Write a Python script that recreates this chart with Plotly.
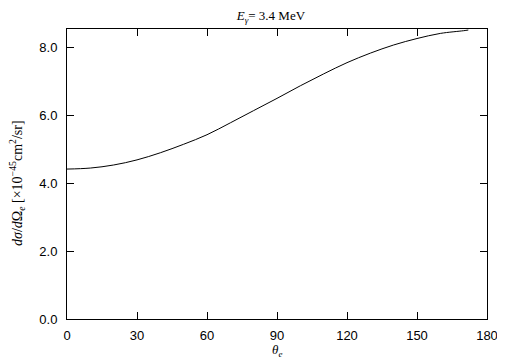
import plotly.graph_objects as go

theta = [0, 10, 20, 30, 40, 50, 60, 70, 80, 90, 100, 110, 120, 130, 140, 150, 160, 170, 172]
dsigma = [4.41, 4.44, 4.53, 4.68, 4.89, 5.14, 5.42, 5.77, 6.13, 6.49, 6.86, 7.21, 7.54, 7.82, 8.06, 8.25, 8.40, 8.48, 8.50]

x_ticks = [0, 30, 60, 90, 120, 150, 180]
y_ticks = [0.0, 2.0, 4.0, 6.0, 8.0]

fig = go.Figure()
fig.add_trace(go.Scatter(x=theta, y=dsigma, mode="lines",
                         line=dict(color="black", width=1, shape="spline", smoothing=1.0),
                         showlegend=False))

tickfont = dict(family="Liberation Sans, Arial, sans-serif", size=13, color="black")
serif = "Liberation Serif, Times New Roman, serif"

# page body has an 8px margin, so the figure is made 8px smaller on each leading edge
fig.update_layout(
    width=497, height=353,
    margin=dict(l=59, r=18, t=21, b=42, autoexpand=False),
    paper_bgcolor="white", plot_bgcolor="white",
    title=dict(text="<i>E</i><sub><i>γ</i></sub>= 3.4 MeV", x=0.529, xanchor="center",
               y=0.978, yanchor="middle", automargin=False,
               font=dict(family=serif, size=13, color="black")),
    xaxis=dict(range=[0, 180], tickvals=x_ticks, ticktext=[str(v) for v in x_ticks],
               ticks="inside", ticklen=7, tickcolor="black", tickwidth=1,
               showline=True, linecolor="black", linewidth=1, mirror="ticks",
               showgrid=False, zeroline=False, tickfont=tickfont, automargin=False,
               ticklabelstandoff=4),
    yaxis=dict(range=[0, 8.53], tickvals=y_ticks, ticktext=["%.1f" % v for v in y_ticks],
               ticks="inside", ticklen=7, tickcolor="black", tickwidth=1,
               showline=True, linecolor="black", linewidth=1, mirror="ticks",
               showgrid=False, zeroline=False, tickfont=tickfont, automargin=False,
               ticklabelstandoff=6),
    annotations=[
        dict(text="<i>θ<sub>e</sub></i>", xref="paper", yref="paper", x=0.5, y=-0.108,
             xanchor="center", yanchor="middle", showarrow=False,
             font=dict(family=serif, size=13, color="black")),
        dict(text="<i>dσ</i>/<i>d</i>Ω<sub><i>e</i></sub> [×10<sup>−45</sup>cm<sup>2</sup>/sr]",
             xref="paper", yref="paper", x=-0.119, y=0.469, textangle=-90,
             xanchor="center", yanchor="middle", showarrow=False,
             font=dict(family=serif, size=14, color="black")),
    ],
)

fig.write_html("out.html")
